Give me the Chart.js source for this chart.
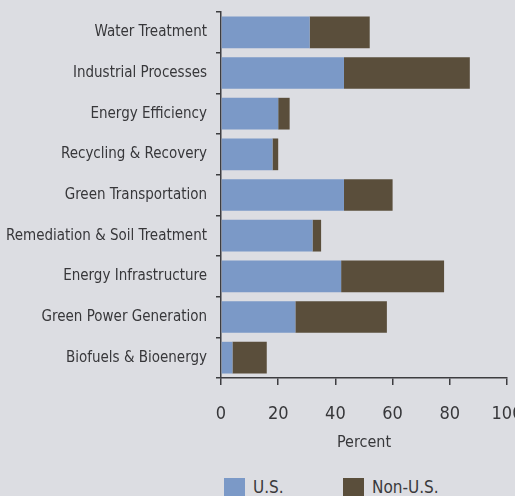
<!DOCTYPE html>
<html>
<head>
<meta charset="utf-8">
<script src="https://cdn.jsdelivr.net/npm/chart.js@4"></script>
<style>
  body { margin: 0; background: #dcdde2; }
  #wrap { position: relative; width: 515px; height: 496px; overflow: hidden; }
  #legend { position: absolute; top: 477px; left: 0; width: 515px; height: 20px; line-height: 20px;
    font-family: "Liberation Sans Narrow", "DejaVu Sans Condensed", sans-serif; font-size: 17px; color: #3a3a3c; }
  .box { position: absolute; top: 1px; width: 21px; height: 20px; }
  .txt { position: absolute; top: 0; }
</style>
</head>
<body>
<div id="wrap">
  <canvas id="grafico" width="515" height="465"></canvas>
  <div id="legend">
    <span class="box" style="left:224px;background:#7b99c7"></span><span class="txt" style="left:253px">U.S.</span>
    <span class="box" style="left:343px;background:#5a4e3b"></span><span class="txt" style="left:372px">Non-U.S.</span>
  </div>
</div>
<script>
// Dados do gráfico
const categorias = ['Water Treatment', 'Industrial Processes', 'Energy Efficiency', 'Recycling & Recovery',
  'Green Transportation', 'Remediation & Soil Treatment', 'Energy Infrastructure',
  'Green Power Generation', 'Biofuels & Bioenergy'];
const valoresUS = [31, 43, 20, 18, 43, 32, 42, 26, 4];
const valoresNaoUS = [21, 44, 4, 2, 17, 3, 36, 32, 12];
const ticksX = [0, 20, 40, 60, 80, 100];

const familia = '"Liberation Sans Narrow", "DejaVu Sans Condensed", sans-serif';
const corTexto = '#37373a';
const corEixo = '#3d3d40';

const ctx = document.getElementById('grafico').getContext('2d');
new Chart(ctx, {
  type: 'bar',
  data: {
    labels: categorias,
    datasets: [
      { label: 'U.S.', data: valoresUS, backgroundColor: '#7b99c7', barPercentage: 0.78, categoryPercentage: 1 },
      { label: 'Non-U.S.', data: valoresNaoUS, backgroundColor: '#5a4e3b', barPercentage: 0.78, categoryPercentage: 1 }
    ]
  },
  options: {
    indexAxis: 'y',
    responsive: false,
    animation: false,
    layout: { padding: { top: 12, right: 8, left: 0, bottom: 0 } },
    plugins: { legend: { display: false }, tooltip: { enabled: false } },
    scales: {
      x: {
        stacked: true,
        min: 0, max: 100,
        afterBuildTicks: s => { s.ticks = ticksX.map(v => ({ value: v })); },
        afterFit: s => { s.height = 87; s.paddingLeft = 0; s.paddingRight = 0; },
        grid: { drawOnChartArea: false, tickLength: 7, color: corEixo, lineWidth: 1.5 },
        border: { color: corEixo, width: 1.5 },
        ticks: { font: { family: familia, size: 18 }, color: corTexto, padding: 19 },
        title: { display: true, text: 'Percent', font: { family: familia, size: 16 }, color: corTexto, padding: { top: 0, bottom: 13 } }
      },
      y: {
        stacked: true,
        afterFit: s => { s.width = 221; s.paddingTop = 0; s.paddingBottom = 0; },
        grid: { drawOnChartArea: false, tickLength: 5, color: corEixo, lineWidth: 1.5, offset: true },
        border: { color: corEixo, width: 1.5 },
        ticks: { font: { family: familia, size: 15 }, color: corTexto, padding: 9 }
      }
    }
  }
});
</script>
</body>
</html>
